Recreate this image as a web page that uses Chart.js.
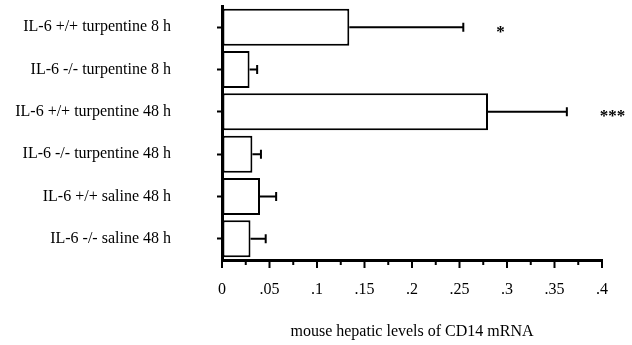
<!DOCTYPE html>
<html>
<head>
<meta charset="utf-8">
<script src="https://cdn.jsdelivr.net/npm/chart.js@4/dist/chart.umd.min.js"></script>
<style>
html,body{margin:0;padding:0;background:#fff;}
#wrap{width:632px;height:345px;position:relative;}
</style>
</head>
<body>
<div id="wrap"><canvas id="c" width="632" height="345"></canvas></div>
<script>
const categories = [
  "IL-6 +/+ turpentine 8 h",
  "IL-6 -/- turpentine 8 h",
  "IL-6 +/+ turpentine 48 h",
  "IL-6 -/- turpentine 48 h",
  "IL-6 +/+ saline 48 h",
  "IL-6 -/- saline 48 h"
];
const means = [0.134, 0.029, 0.280, 0.032, 0.040, 0.030];
const errors = [0.120, 0.008, 0.083, 0.009, 0.017, 0.016];
const significance = ["*", "", "***", "", "", ""];
const xTickLabels = ["0", ".05", ".1", ".15", ".2", ".25", ".3", ".35", ".4"];
const xTitle = "mouse hepatic levels of CD14 mRNA";

const FONT = "'Liberation Serif', 'Times New Roman', serif";

const extrasPlugin = {
  id: 'extras',
  afterDatasetsDraw(chart) {
    const ctx = chart.ctx;
    const xs = chart.scales.x, ys = chart.scales.y;
    ctx.save();
    ctx.strokeStyle = '#000';
    ctx.lineWidth = 2;
    means.forEach((m, i) => {
      const y = ys.getPixelForValue(i);
      const x0 = xs.getPixelForValue(m);
      const x1 = xs.getPixelForValue(m + errors[i]);
      ctx.beginPath();
      ctx.moveTo(x0, y); ctx.lineTo(x1, y);
      ctx.moveTo(x1, y - 4.5); ctx.lineTo(x1, y + 4.5);
      ctx.stroke();
      if (significance[i]) {
        ctx.fillStyle = '#000';
        ctx.font = "bold 17px " + FONT;
        ctx.textAlign = 'left';
        ctx.textBaseline = 'middle';
        ctx.fillText(significance[i], x1 + 33, y + 5);
      }
    });
    const yb = chart.chartArea.bottom;
    xs.ticks.forEach((t) => {
      const px = xs.getPixelForValue(t.value);
      const k = Math.round(t.value / 0.025);
      const len = (k % 2 === 0) ? 8 : 5;
      ctx.beginPath();
      ctx.moveTo(px, yb);
      ctx.lineTo(px, yb + len);
      ctx.stroke();
    });
    ctx.restore();
  }
};

new Chart(document.getElementById('c'), {
  type: 'bar',
  data: {
    labels: categories,
    datasets: [{
      data: means,
      backgroundColor: '#fff',
      borderColor: '#000',
      borderWidth: 2,
      borderSkipped: false,
      categoryPercentage: 1,
      barPercentage: 0.875
    }]
  },
  options: {
    indexAxis: 'y',
    responsive: false,
    animation: false,
    layout: { padding: { top: 6, right: 30, left: 0, bottom: 0 } },
    plugins: { legend: { display: false }, tooltip: { enabled: false } },
    scales: {
      x: {
        min: 0, max: 0.4,
        afterFit(s) { s.height = 85; s.paddingLeft = 0; s.paddingRight = 0; },
        afterBuildTicks(s) {
          const t = [];
          for (let k = 0; k <= 16; k++) t.push({ value: k * 0.025 });
          s.ticks = t;
        },
        grid: { drawOnChartArea: false, drawTicks: true, tickLength: 8, tickColor: 'rgba(0,0,0,0)' },
        border: { color: '#000', width: 3 },
        ticks: {
          autoSkip: false,
          maxRotation: 0,
          padding: 12,
          color: '#000',
          font: { family: FONT, size: 16 },
          callback(v) {
            const k = Math.round(v / 0.025);
            return (k % 2 === 0) ? xTickLabels[k / 2] : '';
          }
        },
        title: {
          display: true, text: xTitle, color: '#000',
          font: { family: FONT, size: 16 },
          padding: { top: 0, bottom: 4 }
        }
      },
      y: {
        afterFit(s) { s.width = 222; s.paddingTop = 0; s.paddingBottom = 0; },
        grid: { drawOnChartArea: false, offset: false, drawTicks: true, tickLength: 5, tickColor: '#000', tickWidth: 2 },
        border: { color: '#000', width: 3 },
        ticks: {
          padding: 46,
          color: '#000',
          font: { family: FONT, size: 16 }
        }
      }
    }
  },
  plugins: [extrasPlugin]
});
</script>
</body>
</html>
